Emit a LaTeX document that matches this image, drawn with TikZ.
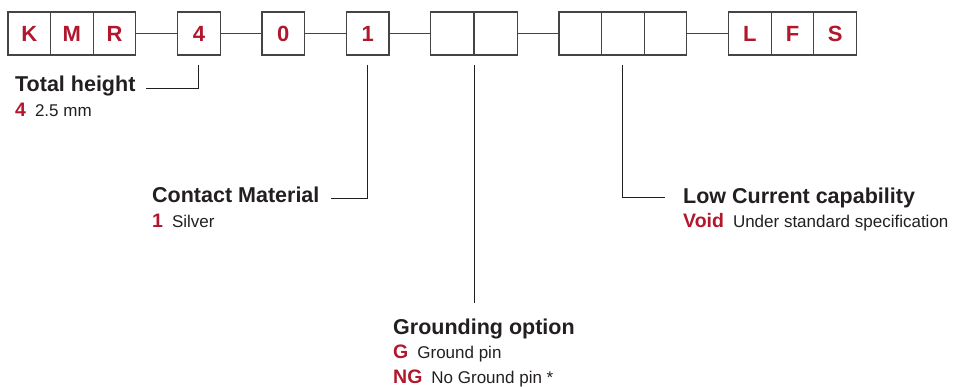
\documentclass[tikz,border=0pt]{standalone}
\usepackage{fontspec}
\setmainfont{Liberation Sans}
\usetikzlibrary{positioning,calc}
\definecolor{codered}{RGB}{177,24,45}
\definecolor{boxgray}{RGB}{68,68,68}
\definecolor{inkdark}{RGB}{35,31,32}
\newcommand{\keycode}[1]{{\color{codered}\fontsize{19.5}{22}\selectfont\bfseries #1}\hspace{9pt}}
\tikzset{
  codebox/.style={draw=boxgray,line width=1.2pt,outer sep=0pt,inner sep=0pt,
    minimum width=42.6pt,minimum height=43pt,text=codered,
    font=\fontsize{22}{25}\selectfont\bfseries},
  joint/.style={draw=boxgray,line width=1pt},
  leader/.style={draw=inkdark,line width=0.9pt},
  keytitle/.style={anchor=base west,inner sep=0pt,text=inkdark,
    font=\fontsize{21.5}{24}\selectfont\bfseries},
  keyvalue/.style={anchor=base west,inner sep=0pt,text=inkdark,
    font=\fontsize{17}{21}\selectfont},
}
\begin{document}
\begin{tikzpicture}[x=1pt,y=1pt]
  \useasboundingbox (0,0) rectangle (956,-387);
  % code boxes
  \node[codebox,anchor=north west] (k) at (8,-12) {K};
  \node[codebox,right=0pt of k] (m) {M};
  \node[codebox,right=0pt of m] (r) {R};
  \node[codebox,right=41.8pt of r] (height) {4};
  \node[codebox,right=41.8pt of height] (zero) {0};
  \node[codebox,right=41.8pt of zero] (material) {1};
  \node[codebox,right=41.8pt of material] (gnda) {};
  \node[codebox,right=1.2pt of gnda] (gndb) {};
  \node[codebox,right=41.8pt of gndb] (lca) {};
  \node[codebox,right=0pt of lca] (lcb) {};
  \node[codebox,right=0pt of lcb] (lcc) {};
  \node[codebox,right=41.8pt of lcc] (l) {L};
  \node[codebox,right=0pt of l] (f) {F};
  \node[codebox,right=0pt of f] (s) {S};
  \draw[joint] (r) -- (height);
  \draw[joint] (height) -- (zero);
  \draw[joint] (zero) -- (material);
  \draw[joint] (material) -- (gnda);
  \draw[joint] (gndb) -- (lca);
  \draw[joint] (lcc) -- (l);

  % total height
  \node[keytitle] (heighttitle) at (15,-92) {Total height};
  \node[keyvalue] (heightval) at ([yshift=-25pt]heighttitle.base west) {\keycode{4}2.5 mm};
  \coordinate (heighttop) at ([yshift=-10pt]height.south);
  \coordinate (heightend) at ([xshift=10pt,yshift=4pt]heighttitle.base east);
  \draw[leader] (heighttop) |- (heightend);

  % contact material
  \node[keytitle] (mattitle) at (152,-203) {Contact Material};
  \node[keyvalue] (matval) at ([yshift=-25pt]mattitle.base west) {\keycode{1}Silver};
  \coordinate (mattop) at ([yshift=-10pt]material.south);
  \coordinate (matend) at ([xshift=11pt,yshift=5pt]mattitle.base east);
  \draw[leader] (mattop) |- (matend);

  % grounding option
  \node[keytitle] (gndtitle) at (393,-335) {Grounding option};
  \node[keyvalue] (gndval) at ([yshift=-24pt]gndtitle.base west) {\keycode{G}Ground pin};
  \node[keyvalue] (gndvalb) at ([yshift=-48pt]gndtitle.base west) {\keycode{NG}No Ground pin *};
  \coordinate (gndtop) at ($(gnda.south east)!0.5!(gndb.south west)+(0,-10pt)$);
  \coordinate (gndend) at (gndtop |- 0,-303);
  \draw[leader] (gndtop) -- (gndend);

  % low current
  \node[keytitle] (lctitle) at (683,-204) {Low Current capability};
  \node[keyvalue] (lcval) at ([yshift=-24pt]lctitle.base west) {\keycode{Void}Under standard specification};
  \coordinate (lctop) at ([yshift=-10pt]lcb.south);
  \coordinate (lcend) at ([xshift=-18pt,yshift=7pt]lctitle.base west);
  \draw[leader] (lctop) |- (lcend);
\end{tikzpicture}
\end{document}
